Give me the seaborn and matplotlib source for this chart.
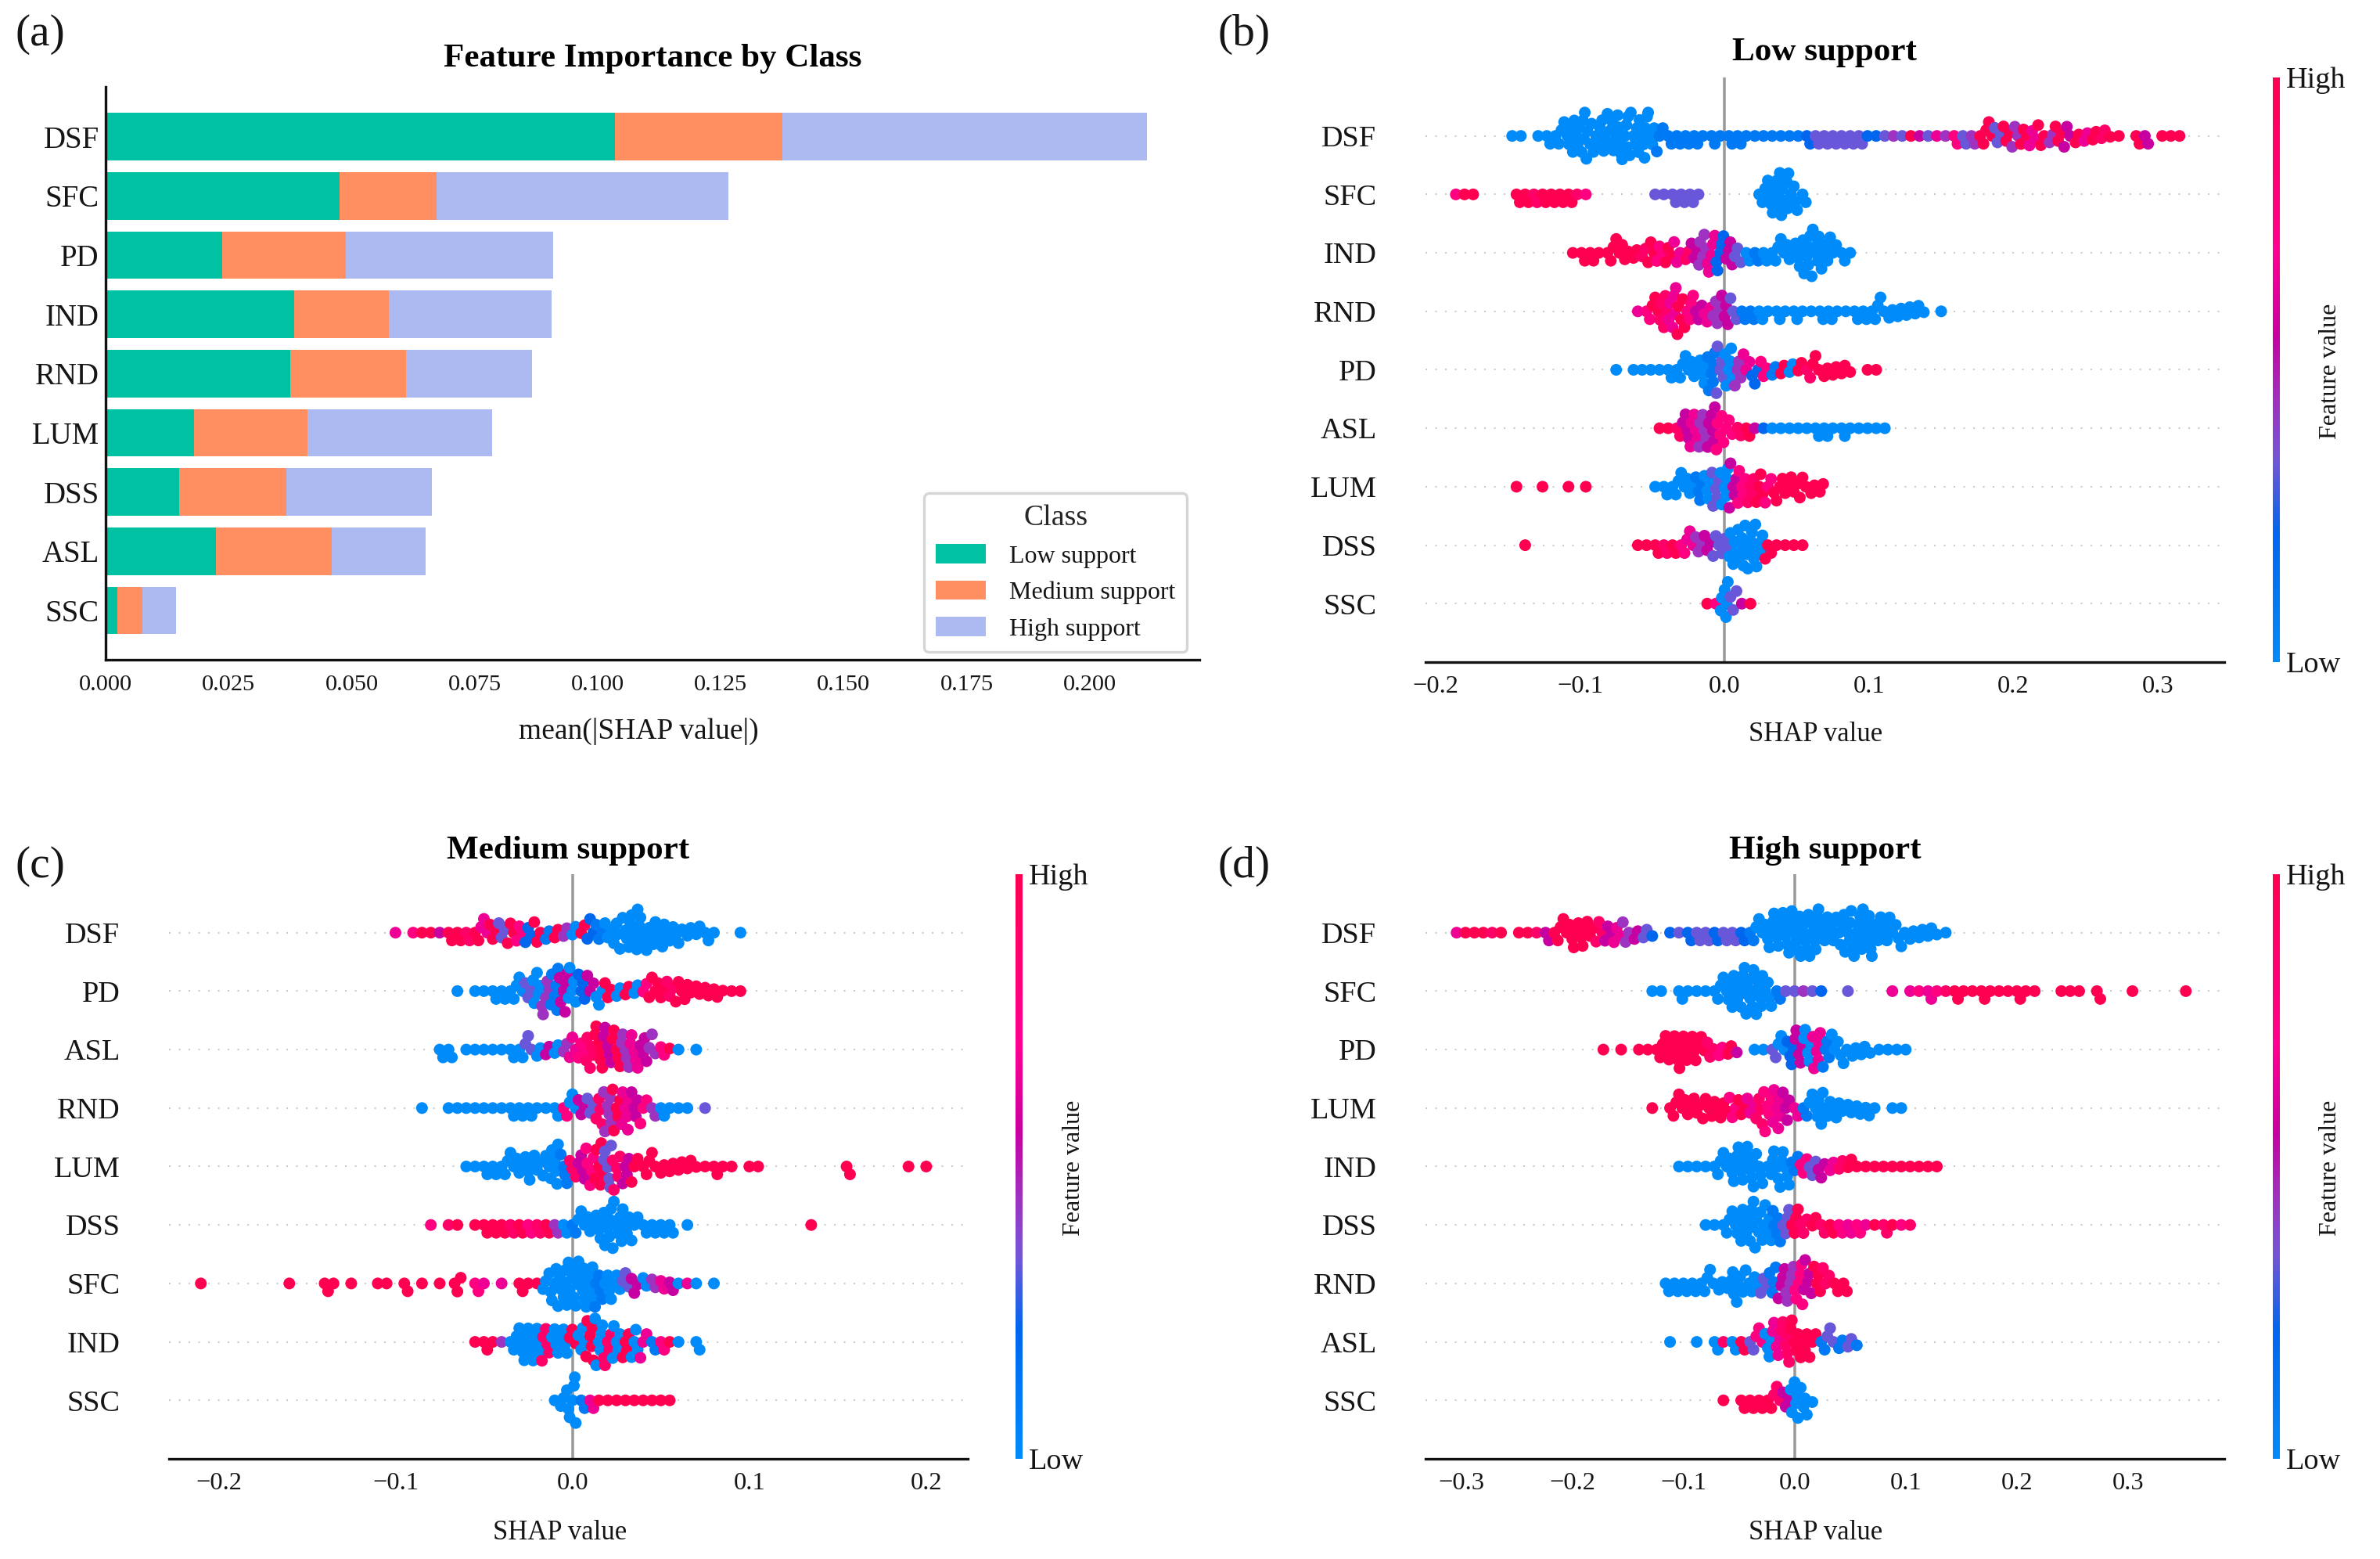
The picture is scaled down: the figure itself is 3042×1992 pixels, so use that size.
import numpy as np
import pandas as pd
import matplotlib
matplotlib.use("Agg")
import matplotlib.pyplot as plt
from matplotlib.colors import LinearSegmentedColormap, Normalize
from matplotlib.cm import ScalarMappable
from matplotlib.patches import Patch
import seaborn as sns

# ---------- panel (a): mean(|SHAP|), cumulative stack edges
bar_features = ["DSF", "SFC", "PD", "IND", "RND", "LUM", "DSS", "ASL", "SSC"]
edge_low = [.1035, .0475, .0237, .0383, .0376, .0180, .0149, .0224, .0024]
edge_medium = [.1375, .0673, .0488, .0576, .0610, .0410, .0368, .0459, .0075]
edge_high = [.2117, .1265, .0910, .0907, .0866, .0785, .0663, .0650, .0143]
class_names = ["Low support", "Medium support", "High support"]
class_colors = ["#00C2A3", "#FF8F60", "#ADBAF2"]

# ---------- beeswarm panels: dots per x-bin and feature value (0 low..9 high) per bin
low_features = ["DSF", "SFC", "IND", "RND", "PD", "ASL", "LUM", "DSS", "SSC"]
low_step = .006
low_starts = [-.147, -.186, -.105, -.060, -.075, -.045, -.144, -.138, -.012]
low_DSF_n = [1,1,0,1,2,2,3,5,6,5,4,5,6,6,5,6,5,3,2,2,2,2,1,2,1,2,2,1,1,1,1,1,1,1,2,2,2,2,2,2,2,1,1,1,1,1,1,1,1,1,1,2,2,2,2,3,3,3,3,3,3,3,2,3,3,2,2,2,2,1,1,0,2,2,0,1,1,1]
low_DSF_c = [0,0,0,0,0,0,0,0,0,0,0,0,0,0,0,0,0,1,1,1,1,1,1,1,1,1,1,1,1,1,1,1,1,1,2,3,3,3,3,3,3,2,2,3,4,3,9,5,3,6,4,7,3,4,9,9,3,9,4,9,6,9,4,9,5,9,6,9,8,9,9,9,9,5,9,9,9,9]
low_SFC_n = [1,1,1,0,0,0,0,2,2,2,2,2,2,2,1,1,0,0,0,0,0,0,0,1,1,2,2,2,1,0,0,0,0,0,0,2,4,6,6,4,2]
low_SFC_c = [7,9,9,0,0,0,0,9,9,8,9,9,9,9,8,7,0,0,0,0,0,0,0,3,3,3,3,3,3,0,0,0,0,0,0,0]
low_IND_n = [1,2,2,1,2,3,3,2,2,3,3,3,3,2,3,5,5,5,4,3,2,2,2,2,3,3,4,6,6,4,3,2,1]
low_IND_c = [9,9,9,9,9,9,9,9,8,9,7,9,6,8,5,4,6,2,5,3,0,1,0,0,0]
low_RND_n = [1,2,3,5,6,5,4,3,3,4,4,3,2,2,2,1,2,1,2,1,1,2,2,1,1,2,2,2,3,2,2,2,2,1,0,1]
low_RND_c = [6,7,9,8,6,9,7,5,6,4,5,3,1,1,0]
low_PD_n = [1,0,1,1,1,1,2,2,3,3,4,6,5,6,4,3,3,3,2,2,2,2,2,3,2,2,2,1,0,1,1]
low_PD_c = [0,0,0,0,0,0,0,0,0,0,0,1,3,0,4,6,2,7,1,9,0,9,8,9]
low_ASL_n = [1,1,2,4,5,5,6,5,3,2,2,1,1,1,1,1,1,1,2,2,1,2,1,1,1,1,1]
low_ASL_c = [9,9,8,5,6,4,5,7,7,8,9,5,2,0]
low_LUM_n = [1,0,0,1,0,0,1,0,1,0,0,0,0,0,0,0,1,2,2,3,3,4,4,5,6,5,5,4,4,3,3,3,3,3,2,2]
low_LUM_c = [9,9,9,9,9,9,9,9,9,0,0,0,0,0,0,0,0,0,0,0,0,1,0,3,0,5,7,8,9,7,9]
low_DSS_n = [1,0,0,0,0,0,0,0,0,0,0,0,0,1,1,2,2,2,2,3,3,3,3,3,5,6,6,5,3,1,1,1,1]
low_DSS_c = [9,0,0,0,0,0,0,0,0,0,0,0,0,9,9,9,8,9,7,6,4,5,3,3,0,0,0,0,9]
low_SSC_n = [1,1,6,3,1,1]
low_SSC_c = [9,7,0,3,5,9]
low_n = [low_DSF_n, low_SFC_n, low_IND_n, low_RND_n, low_PD_n, low_ASL_n, low_LUM_n, low_DSS_n, low_SSC_n]
low_c = [low_DSF_c, low_SFC_c, low_IND_c, low_RND_c, low_PD_c, low_ASL_c, low_LUM_c, low_DSS_c, low_SSC_c]

med_features = ["DSF", "PD", "ASL", "RND", "LUM", "DSS", "SFC", "IND", "SSC"]
med_step = .005
med_starts = [-.100, -.065, -.075, -.085, -.060, -.080, -.210, -.055, -.010]
med_DSF_n = [1,0,1,1,1,1,2,2,2,2,3,3,3,3,3,3,3,2,2,2,2,2,3,3,3,4,4,6,5,4,4,3,3,2,2,2,1,0,0,1]
med_DSF_c = [6,6,7,9,9,5,9,9,8,9,6,9,3,9,7,2,9,1,9,4,0,9,2,1,0]
med_PD_n = [1,0,1,1,2,2,2,3,3,5,5,6,6,5,4,3,3,3,2,2,2,2,3,3,3,3,3,2,2,2,1,1,1]
med_PD_c = [0,0,0,0,0,0,0,0,3,0,4,1,5,0,2,5,0,9,0,9,0,7,9,9,8,9]
med_ASL_n = [2,2,0,1,1,1,1,1,2,2,3,2,2,2,2,3,3,5,6,5,5,5,5,4,3,2,1,1,0,1]
med_ASL_c = [0,0,0,0,0,0,0,0,0,0,3,0,5,0,4,6,7,8,9,5,9,4,6,5,4,7,9,0,7,0]
med_RND_n = [1,0,0,1,1,1,1,1,1,1,2,2,2,1,1,2,2,3,3,3,4,6,5,6,4,3,2,2,1,1,1,0,1]
med_RND_c = [0,0,0,0,0,0,0,0,0,0,0,0,0,0,0,0,7,0,5,3,8,4,9,6,5,7,4,0,0,0,0,0,3]
med_LUM_n = [1,1,2,2,2,3,3,4,3,3,6,4,3,4,5,6,6,5,4,3,2,3,2,2,2,2,1,1,2,1,1,0,1,1,0,0,0,0,0,0,0,0,0,2,0,0,0,0,0,0,1,0,1]
med_LUM_c = [0,0,0,0,0,0,0,0,0,0,0,1,8,5,7,9,3,8,5,9,9]
med_DSS_n = [1,0,1,1,0,1,2,2,2,2,2,2,2,2,2,2,2,3,3,4,6,5,5,3,2,2,2,2,0,1,0,0,0,0,0,0,0,0,0,0,0,0,0,1]
med_DSS_c = [7,0,8,9,0,9,9,9,9,8,9,7,8,9,4,0,1,0,0,0,0,0,0,0,0,0,0,0,0,0,9,9,9,9,9,9,9,9,9,9,9,9,9,9]
med_SFC_n = [1,0,0,0,0,0,0,0,0,0,1,0,0,0,2,1,0,1,0,0,1,1,0,2,0,1,0,1,0,3,0,2,1,0,1,0,2,1,1,3,5,6,6,6,6,5,4,3,3,3,2,2,2,2,1,1,1,0,1]
med_SFC_c = [9,9,9,9,9,9,9,9,9,9,9,9,9,9,9,9,9,9,9,9,9,9,9,9,9,9,9,9,9,9,9,7,6,9,6,9,9,9,9,0,0,0,0,0,0,1,0,0,3,5,0,4,6,5,0,6,0,0,0]
med_IND_n = [1,2,1,1,2,4,5,5,5,4,4,3,4,6,6,5,5,4,4,3,2,2,1,1,0,2]
med_IND_c = [9,9,9,4,0,0,0,0,8,0,0,9,0,9,0,8,0,9,0,6,1,7,9,0,0,0]
med_SSC_n = [1,3,6,2,2,1,1,1,1,1,1,1,1,1]
med_SSC_c = [0,0,0,1,6,9]
med_n = [med_DSF_n, med_PD_n, med_ASL_n, med_RND_n, med_LUM_n, med_DSS_n, med_SFC_n, med_IND_n, med_SSC_n]
med_c = [med_DSF_c, med_PD_c, med_ASL_c, med_RND_c, med_LUM_c, med_DSS_c, med_SFC_c, med_IND_c, med_SSC_c]

high_features = ["DSF", "SFC", "PD", "LUM", "IND", "DSS", "RND", "ASL", "SSC"]
high_step = .008
high_starts = [-.304, -.128, -.172, -.128, -.104, -.080, -.116, -.112, -.064]
high_DSF_n = [1,1,1,1,1,1,0,1,1,1,2,2,3,4,4,3,3,3,3,3,2,2,1,0,1,1,2,2,2,2,2,2,2,2,3,4,5,6,6,6,6,5,4,4,6,6,6,5,4,3,3,2,2,2,1,1]
high_DSF_c = [6,9,9,9,8,9,9,9,9,8,5,9,9,9,9,9,8,5,6,4,5,3,2,2,2,3,2,3,3,2,3,3,2,1,0]
high_SFC_n = [1,1,0,2,1,1,1,2,3,5,6,6,6,4,2,1,1,1,1,1,0,0,1,0,0,0,0,1,0,1,1,2,1,1,2,1,1,2,1,1,1,2,1,1,0,0,1,1,1,0,2,0,0,0,1,0,0,0,0,0,1]
high_SFC_c = [0,0,0,0,0,0,0,0,0,0,0,0,0,0,1,3,3,4,3,2,2,2,3,3,3,3,3,6,6,6,7,6,7,8,9]
high_PD_n = [1,0,1,0,1,1,2,4,4,5,4,3,3,2,2,1,0,1,1,2,3,4,5,5,6,4,3,3,2,2,1,1,1,1,1]
high_PD_c = [9,9,9,9,9,9,9,9,9,9,9,9,8,7,9,5,0,0,0,3,0,2,5,0,6,1,0]
high_LUM_n = [1,0,2,3,3,3,3,3,3,3,3,3,4,5,6,4,2,2,3,5,3,3,2,2,2,1,0,1,1]
high_LUM_c = [9,9,9,9,9,9,9,9,9,7,9,6,8,7,6,5,6,1,0]
high_IND_n = [1,1,1,1,2,3,4,5,6,4,2,5,5,3,3,3,3,2,2,2,1,1,1,1,1,1,1,1,1,1]
high_IND_c = [0,0,0,0,0,0,0,0,0,0,0,0,0,1,7,3,5,6,8,9]
high_DSS_n = [1,1,2,3,5,6,5,5,5,4,4,3,2,2,2,2,2,2,1,1,2,1,1,1]
high_DSS_c = [0,0,0,0,0,0,0,0,1,3,9,8,9,8,9,7,6,7,6,9,8,9,7,8]
high_RND_n = [2,2,2,2,2,3,2,2,5,3,3,3,4,4,5,6,5,4,3,2,2]
high_RND_c = [0,0,0,0,0,0,0,0,0,0,0,3,1,5,4,7,5,9,8,9,9]
high_ASL_n = [1,0,0,1,0,2,1,2,2,2,3,4,5,6,5,4,3,2,3,2,2,1]
high_ASL_c = [0,0,0,0,0,0,8,0,9,3,7,0,6,8,9,9,9,1,3,1,3,1]
high_SSC_n = [1,0,2,2,2,2,3,3,6,4,1]
high_SSC_c = [9,9,9,9,9,9,8,5,0,0,0]
high_n = [high_DSF_n, high_SFC_n, high_PD_n, high_LUM_n, high_IND_n, high_DSS_n, high_RND_n, high_ASL_n, high_SSC_n]
high_c = [high_DSF_c, high_SFC_c, high_PD_c, high_LUM_c, high_IND_c, high_DSS_c, high_RND_c, high_ASL_c, high_SSC_c]

# where the k-th dot of a bin sits inside that bin, as a fraction of the bin
within_bin = [0, .38, -.31, .17, -.44, .27, -.12]

panel_titles = ["Feature Importance by Class", "Low support", "Medium support", "High support"]
panel_marks = ["(a)", "(b)", "(c)", "(d)"]

# ---------- figure set-up
W, H = 3042, 1992
INK = "#151515"
sns.set_theme(style="white")
plt.rcParams["font.family"] = ["Liberation Serif", "DejaVu Serif"]
plt.rcParams["axes.unicode_minus"] = True
fig = plt.figure(figsize=(W / 300, H / 300), dpi=300, facecolor="white")


def axes_px(left, top, right, bottom):
    return fig.add_axes([left / W, 1 - bottom / H, (right - left) / W, (bottom - top) / H])


shap_cmap = LinearSegmentedColormap.from_list(
    "red_blue",
    [(0, "#008BFB"), (.22, "#0066EE"), (.35, "#7755D5"), (.45, "#A030BE"),
     (.56, "#C800A0"), (.71, "#FF0090"), (1, "#FF0051")],
)
LAYOUT_DOT = 2.5   # packing size of the swarm, in points
DRAWN_DOT = 3.6    # drawn size: dots overlap, as in the reference
swarm_axes = []


def swarm_panel(box, features, starts, step, counts, colours, xlim, xticks, title, title_x, title_y, xlabel_xy, cbar_x):
    ax = axes_px(*box)
    xs, ys, hs = [], [], []
    for name, x0, ns, cs in zip(features, starts, counts, colours):
        for i, n in enumerate(ns):
            for k in range(n):
                xs.append(x0 + (i + within_bin[k % len(within_bin)]) * step)
                ys.append(name)
                hs.append(cs[min(i, len(cs) - 1)])
    df = pd.DataFrame({"shap": xs, "feature": ys, "value": hs})
    ax.set_xlim(*xlim)
    for k in range(len(features)):
        ax.axhline(k, color="#cccccc", lw=.5, dashes=(1, 5), zorder=-1)
    ax.axvline(0, color="#999999", lw=.85, zorder=-1)
    sns.swarmplot(data=df, x="shap", y="feature", order=features, hue="value", palette=shap_cmap,
                  hue_norm=(0, 9), size=LAYOUT_DOT, linewidth=0, legend=False, warn_thresh=1, ax=ax)
    ax.set_xlim(*xlim)
    ax.set_ylim(9, -1)
    sns.despine(ax=ax, left=True)
    ax.spines["bottom"].set_linewidth(.8)
    ax.spines["bottom"].set_color("#111111")
    ax.set_xticks(xticks)
    ax.set_xticklabels([f"{t:.1f}".replace("-", "\u2212") for t in xticks])
    ax.tick_params(axis="x", length=2, width=.5, labelsize=7.8, pad=2, color=INK, labelcolor=INK)
    ax.tick_params(axis="y", length=0, labelsize=9.2, pad=15, labelcolor=INK)
    ax.set_ylabel("")
    ax.set_xlabel("SHAP value", fontsize=8.3, color=INK, va="center")
    ax.xaxis.set_label_coords(*xlabel_xy)
    ax.set_title(title, fontsize=10.35, fontweight="bold", x=title_x, y=title_y, va="center", color="black")
    # colour bar
    left, top, right, bottom = box
    cax = axes_px(cbar_x, top, cbar_x + 9, bottom)
    cb = fig.colorbar(ScalarMappable(Normalize(0, 1), shap_cmap), cax=cax, ticks=[0, 1])
    cb.outline.set_visible(False)
    cax.set_yticklabels(["Low", "High"])
    cax.tick_params(length=0, labelsize=9.2, pad=2, labelcolor=INK)
    fig.text((cbar_x + 74) / W, 1 - ((top + bottom) / 2 + 2) / H, "Feature value", rotation=90,
             ha="center", va="center", fontsize=7.7, color=INK)
    swarm_axes.append(ax)
    return ax


# ---------- panel (a)
ax = axes_px(135, 111, 1533, 843)
bar_df = pd.DataFrame({"feature": bar_features, "low": edge_low, "medium": edge_medium, "high": edge_high})
for col, colour in zip(["high", "medium", "low"], class_colors[::-1]):
    sns.barplot(data=bar_df, x=col, y="feature", order=bar_features, color=colour, width=.8,
                saturation=1, ax=ax, linewidth=0)
ax.set_xlim(0, .2223)
ax.set_ylim(8.83, -.84)
sns.despine(ax=ax)
for s in ["left", "bottom"]:
    ax.spines[s].set_linewidth(.8)
    ax.spines[s].set_color("#111111")
ticks_a = [0, .025, .05, .075, .1, .125, .15, .175, .2]
ax.set_xticks(ticks_a)
ax.set_xticklabels([f"{t:.3f}" for t in ticks_a])
ax.tick_params(axis="x", length=2, width=.5, labelsize=7.3, pad=2.5, color=INK, labelcolor=INK)
ax.tick_params(axis="y", length=0, labelsize=9.3, pad=2, labelcolor=INK)
ax.set_ylabel("")
ax.set_xlabel("mean(|SHAP value|)", fontsize=9, color=INK, va="center")
ax.xaxis.set_label_coords(.487, -.125)
ax.set_title(panel_titles[0], fontsize=10.35, fontweight="bold", x=.5, y=1.015, va="center", color="black")
handles = [Patch(facecolor=c, edgecolor="none", label=n) for c, n in zip(class_colors, class_names)]
ax.legend(handles=handles, title="Class", loc="lower right", bbox_to_anchor=(.9886, .0137), borderaxespad=0,
          fontsize=7.7, title_fontsize=9.1, frameon=True, fancybox=True, edgecolor="#d5d5d5", framealpha=1,
          handlelength=2.0, handleheight=.8, labelspacing=.5, handletextpad=.95, borderpad=.45,
          labelcolor=INK)
ax.get_legend().get_frame().set_linewidth(.8)

# ---------- panels (b) (c) (d)
swarm_panel((1822, 99, 2843, 846), low_features, low_starts, low_step, low_n, low_c,
            (-.207, .346), [-.2, -.1, 0, .1, .2, .3], panel_titles[1], .5, 1.010, (.488, -.124), 2905)
swarm_panel((216, 1117, 1237, 1864), med_features, med_starts, med_step, med_n, med_c,
            (-.228, .2235), [-.2, -.1, 0, .1, .2], panel_titles[2], .5, 1.007, (.489, -.127), 1298)
swarm_panel((1822, 1117, 2843, 1864), high_features, high_starts, high_step, high_n, high_c,
            (-.332, .3866), [-.3, -.2, -.1, 0, .1, .2, .3], panel_titles[3], .5, 1.007, (.488, -.127), 2905)

for mark, (px, py) in zip(panel_marks, [(20, 44), (1557, 44), (20, 1107), (1557, 1107)]):
    fig.text(px / W, 1 - py / H, mark, fontsize=13.8, ha="left", va="center", color=INK)

# lay the swarms out at the packing size, then freeze them and draw the dots at full size
fig.canvas.draw()
for a in swarm_axes:
    for coll in a.collections:
        if "draw" in coll.__dict__:
            del coll.draw
            coll.set_sizes([DRAWN_DOT ** 2])

fig.savefig("out.png", dpi=300, facecolor="white")
